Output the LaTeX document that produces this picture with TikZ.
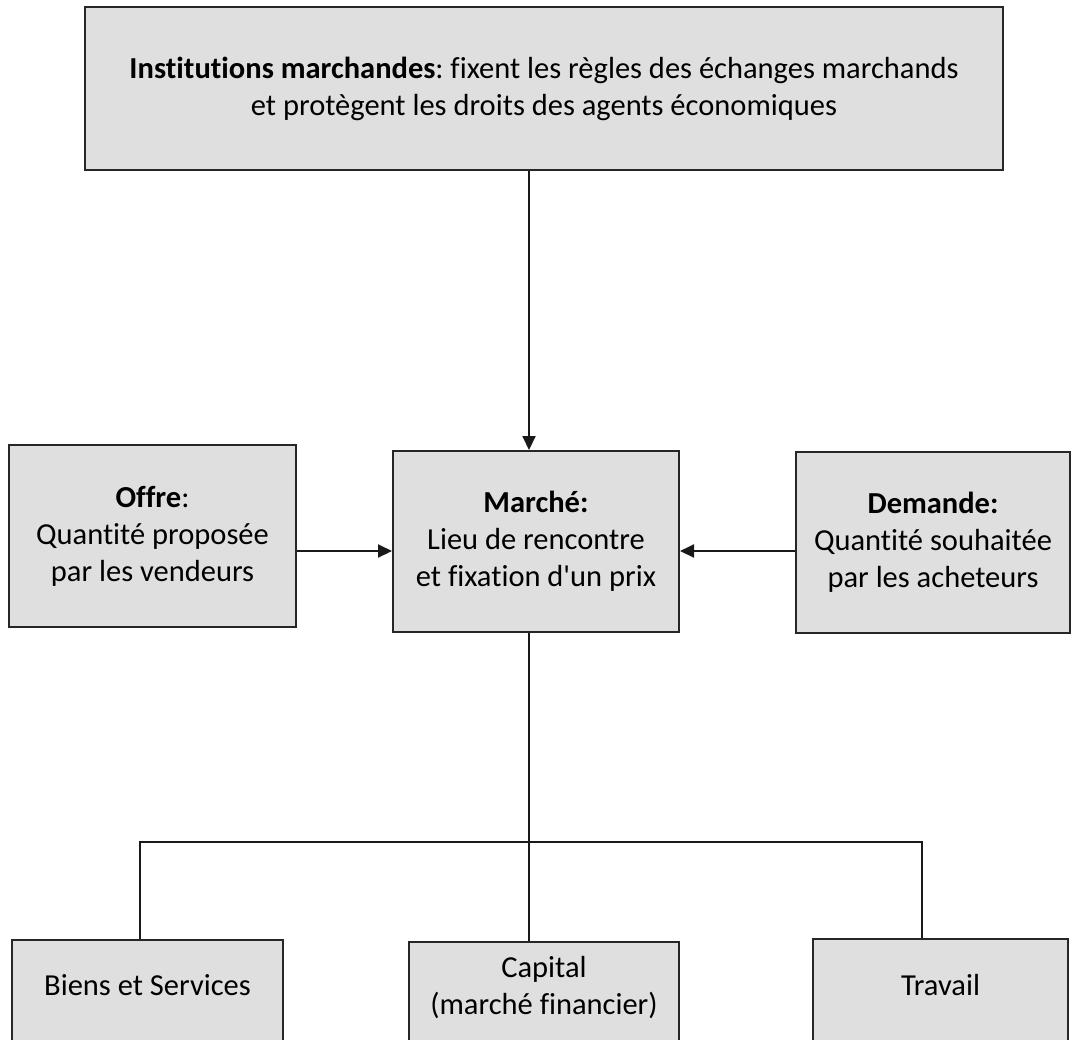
\documentclass[tikz,border=0pt]{standalone}
\usepackage{fontspec}
\setmainfont{Carlito}[Ligatures={NoCommon}]
\frenchspacing
\usetikzlibrary{arrows.meta}
\usetikzlibrary{positioning}
\definecolor{boxgray}{gray}{0.875}
\definecolor{edgegray}{gray}{0.15}
\tikzset{
    box/.style={draw=edgegray, line width=2pt, fill=boxgray, align=center, inner sep=0pt, font=\fontsize{30.5}{37}\selectfont},
    txt/.style={align=center, inner sep=0pt, font=\fontsize{30.5}{37}\selectfont},
    link/.style={line width=2pt, draw=black!90},
    arr/.style={link, -{Triangle[length=14pt,width=13pt]}}
}

\begin{document}
\begin{tikzpicture}[x=1pt, y=-1pt]
        \useasboundingbox (0,0) rectangle (1073,1039);
        \clip (0,0) rectangle (1073,1039);

        % Institutions (top)
        \node[box, minimum width=918pt, minimum height=163pt] (inst) at (544,88.5)
            {\textbf{Institutions marchandes}: fixent les règles des échanges marchands\\et protègent les droits des agents économiques};

        % Middle row: offre, marche, demande
        \node[box, minimum width=287pt, minimum height=182pt] (offre) at (152.5,536)
            {\textbf{Offre}:\\Quantité proposée\\par les vendeurs};
        \node[box, minimum width=286pt, minimum height=181pt] (marche) at (536,541.5)
            {\textbf{Marché:}\\Lieu de rencontre\\et fixation d\textquotesingle un prix};
        \node[box, minimum width=274pt, minimum height=181pt] (demande) at (933,542.5)
            {\textbf{Demande:}\\Quantité souhaitée\\par les acheteurs};

        % Bottom row (cut by the page edge)
        \node[box, anchor=north, minimum width=271pt, minimum height=160pt] (biens) at (147.5,939) {};
        \node[box, anchor=north, minimum width=270pt, minimum height=160pt] (capital) at (544,941) {};
        \node[box, anchor=north, minimum width=255pt, minimum height=160pt] (travail) at (940.5,938) {};
        \node[txt] (biensTxt) at ([yshift=-46pt]biens.north) {Biens et Services};
        \node[txt] (capitalTxt) at ([yshift=-46.5pt]capital.north) {Capital\\(marché financier)};
        \node[txt] (travailTxt) at ([yshift=-47pt]travail.north) {Travail};

        % Connectors
        \coordinate (spine) at (529,842); % vertical axis
        \coordinate (mid) at (0,551);     % arrow height
        \coordinate (leftdrop) at (140,842);
        \coordinate (rightdrop) at (922,842);

        \draw[arr] (inst.south -| spine) -- (marche.north -| spine);
        \draw[arr] (offre.east |- mid) -- (marche.west |- mid);
        \draw[arr] (demande.west |- mid) -- (marche.east |- mid);
        \draw[link] (marche.south -| spine) -- (capital.north -| spine); % stem
        \draw[link] (biens.north -| leftdrop) -- (leftdrop) -- (rightdrop) -- (travail.north -| rightdrop); % branches
\end{tikzpicture}
\end{document}
